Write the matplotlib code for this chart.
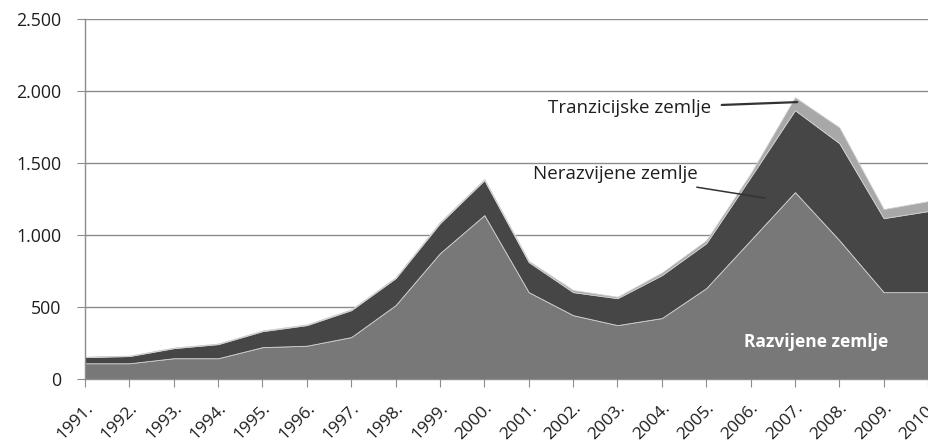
import matplotlib
matplotlib.use("Agg")
import matplotlib.pyplot as plt
from matplotlib.ticker import FuncFormatter

# ---------------------------------------------------------------------------
# Data
# ---------------------------------------------------------------------------
years = list(range(1991, 2011))
year_labels = [f"{y}." for y in years]

razvijene = [110, 110, 145, 145, 222, 232, 292, 514, 875, 1139,
             604, 444, 375, 424, 632, 965, 1299, 965, 604, 604]
nerazvijene = [43, 50, 70, 98, 111, 143, 187, 187, 208, 243,
               209, 160, 187, 298, 312, 438, 569, 674, 514, 563]
tranzicijske = [3, 3, 4, 4, 5, 5, 6, 6, 8, 8,
                8, 15, 10, 18, 20, 25, 90, 110, 63, 69]

y_ticks = [0, 500, 1000, 1500, 2000, 2500]

# ---------------------------------------------------------------------------
# Plot
# ---------------------------------------------------------------------------
plt.rcParams["font.family"] = ["Open Sans", "DejaVu Sans"]

fig = plt.figure(figsize=(9.29, 4.46), dpi=100)
ax = fig.add_axes([0.0915, 0.150, 0.9075, 0.807])

colors = ["#787878", "#464646", "#a8a8a8"]
ax.stackplot(years, razvijene, nerazvijene, tranzicijske,
             colors=colors, edgecolor="#d0d0d0", linewidth=0.6, zorder=2)

ax.set_xlim(years[0], years[-1])
ax.set_ylim(0, 2500)
ax.set_yticks(y_ticks)
ax.yaxis.set_major_formatter(FuncFormatter(lambda v, p: f"{int(v):,}".replace(",", ".")))
ax.set_xticks(years)
ax.set_xticklabels(year_labels, rotation=45, ha="right", rotation_mode="anchor")

ax.grid(axis="y", color="#8c8c8c", linewidth=1.0, zorder=0)
ax.set_axisbelow(True)
for side in ("top", "right"):
    ax.spines[side].set_visible(False)
for side in ("left", "bottom"):
    ax.spines[side].set_color("#8c8c8c")
    ax.spines[side].set_linewidth(1.0)
ax.tick_params(axis="both", colors="#8c8c8c", labelcolor="#1e1e1e", length=6)
ax.tick_params(axis="y", labelsize=12.8, pad=11)
ax.tick_params(axis="x", labelsize=12.5, pad=9)

# annotations
ax.annotate("Tranzicijske zemlje", xy=(2007.05, 1924), xytext=(2005.1, 1880),
            fontsize=13.5, color="#1e1e1e", ha="right", va="center",
            arrowprops=dict(arrowstyle="-", color="#333333", lw=1.6,
                            shrinkA=6, shrinkB=0))
ax.annotate("Nerazvijene zemlje", xy=(2006.33, 1257), xytext=(2004.8, 1424),
            fontsize=13.5, color="#1e1e1e", ha="right", va="center",
            arrowprops=dict(arrowstyle="-", color="#333333", lw=1.1,
                            shrinkA=6, shrinkB=0))
ax.text(2007.47, 257, "Razvijene zemlje", fontsize=12.5, color="white",
        fontweight="bold", ha="center", va="center")

fig.savefig("out.png", dpi=100)
